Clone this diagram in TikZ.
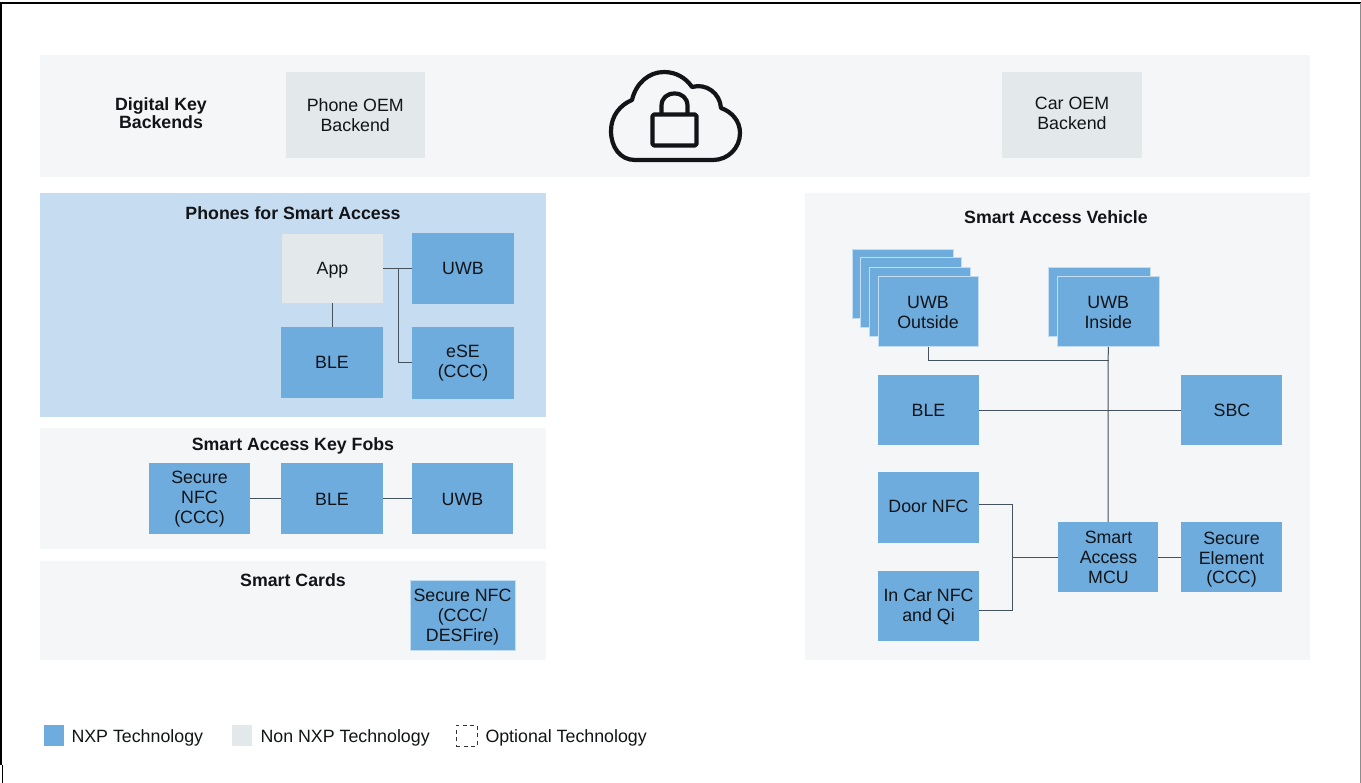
\documentclass[tikz,border=0pt]{standalone}
\usepackage{fontspec}
\setmainfont{Liberation Sans}
\definecolor{nxp}{HTML}{6EACDE}
\definecolor{nonnxp}{HTML}{E3E9EB}
\definecolor{panel}{HTML}{F5F6F8}
\definecolor{phonepanel}{HTML}{C5DCF1}
\definecolor{edgeblue}{HTML}{C3DDF3}
\definecolor{wire}{HTML}{46525D}
\definecolor{ink}{HTML}{121417}
\newcommand{\bx}[7]{%
  \pgfmathsetmacro{\cxv}{(#2+#4)/2}\pgfmathsetmacro{\cyv}{(#3+#5)/2}%
  \pgfmathsetmacro{\wv}{#4-#2}\pgfmathsetmacro{\hv}{#5-#3}%
  \node[#6,minimum width=\wv pt,minimum height=\hv pt] (#1) at (\cxv,\cyv) {#7};}
\newcommand{\nudge}[2]{\raisebox{-#1pt}[\height][\depth]{\begin{tabular}{@{}c@{}}#2\end{tabular}}}
\tikzset{
  every node/.style={inner sep=0pt,outer sep=0pt,text=ink,align=center,font=\fontsize{17.8}{20}\selectfont},
  nxpbox/.style={fill=nxp},
  nxpedge/.style={fill=nxp,draw=edgeblue,line width=1pt},
  nonbox/.style={fill=nonnxp},
  panelbox/.style={fill=panel},
  phonebox/.style={fill=phonepanel},
  title/.style={font=\fontsize{17.75}{18}\selectfont\bfseries},
  wired/.style={draw=wire,line width=1pt},
  icon/.style={draw=ink,line width=4.2pt,line join=round,line cap=round},
}
\begin{document}
\begin{tikzpicture}[x=1pt,y=-1pt]
\useasboundingbox (0,0) rectangle (1361,783);
% frame
\fill[white] (0,0) rectangle (1361,783);
\draw[black,line width=2.8pt] (0,3) -- (1361,3);
\draw[black,line width=2.4pt] (0.8,3) -- (0.8,765);
\draw[black!45,line width=1.2pt] (1360.4,3) -- (1360.4,783);
\draw[black,line width=1pt] (2,765) -- (2,783);
% panels
\bx{backends}{40}{55}{1310}{177}{panelbox}{}
\bx{phones}{40}{193}{546}{417}{phonebox}{}
\bx{fobs}{40}{428}{546}{549}{panelbox}{}
\bx{cards}{40}{561}{546}{660}{panelbox}{}
\bx{vehicle}{805}{193}{1310}{660}{panelbox}{}
% titles
\node[title] (tdk) at (161,113) {Digital Key\\Backends};
\node[title] (tph) at (293,213) {Phones for Smart Access};
\node[title] (tfo) at (293,446) {Smart Access Key Fobs};
\node[title] (tca) at (293,580) {Smart Cards};
\node[title] (tve) at (1056,217) {Smart Access Vehicle};
% backends
\bx{phoneoem}{286}{72}{424.5}{158.5}{nonbox}{Phone OEM\\Backend}
\bx{caroem}{1002}{72}{1142}{158.5}{nonbox}{\nudge{0}{Car OEM\\Backend}}
% cloud
\draw[icon,fill=panel] (635,160)
  .. controls (620,160) and (611,147) .. (611,131)
  .. controls (611,116) and (620,105) .. (632,100)
  .. controls (636,83) and (649,72) .. (664,72)
  .. controls (676,72) and (686,78) .. (692,87)
  .. controls (706,83) and (720,93) .. (721,108)
  .. controls (732,112) and (740,121) .. (740,133)
  .. controls (740,148) and (728,160) .. (713,160) -- cycle;
\draw[icon] (661.5,114) -- (661.5,106)
  .. controls (661.5,98) and (667,93.5) .. (674.5,93.5)
  .. controls (682,93.5) and (687.5,98) .. (687.5,106) -- (687.5,114);
\draw[icon,rounded corners=1.5pt] (652.5,114.5) rectangle (696.5,145.5);
% phones
\bx{app}{282}{234}{383}{303}{nonbox}{\nudge{2}{App}}
\bx{puwb}{412}{233}{514}{304}{nxpbox}{UWB}
\bx{pble}{281}{327}{383}{398}{nxpbox}{BLE}
\bx{pese}{412}{327}{514}{399}{nxpbox}{eSE\\(CCC)}
% fobs
\bx{fnfc}{149}{463}{250}{534}{nxpbox}{\nudge{1}{Secure\\NFC\\(CCC)}}
\bx{fble}{281}{463}{383}{534}{nxpbox}{\nudge{3}{BLE}}
\bx{fuwb}{412}{463}{513}{534}{nxpbox}{\nudge{3}{UWB}}
% cards
\bx{cnfc}{410}{580}{515}{650}{nxpedge}{\nudge{2.5}{Secure NFC\\(CCC/\\DESFire)}}
% vehicle
\bx{uo3}{852.5}{249.5}{953.5}{319}{nxpedge}{}
\bx{uo2}{860.5}{257.5}{961.5}{328}{nxpedge}{}
\bx{uo1}{869.5}{267.5}{970}{337}{nxpedge}{}
\bx{uout}{878}{277}{978}{347}{nxpedge}{\nudge{3}{UWB\\Outside}}
\bx{ui1}{1048.5}{267.5}{1150}{337}{nxpedge}{}
\bx{uin}{1057.5}{277}{1159}{347}{nxpedge}{\nudge{3}{UWB\\Inside}}
\bx{vble}{878}{375}{979}{445.5}{nxpbox}{BLE}
\bx{sbc}{1181}{375}{1282}{445.5}{nxpbox}{\hspace{1pt}SBC}
\bx{door}{878}{472}{979}{543}{nxpbox}{\nudge{1}{Door NFC}}
\bx{incar}{878}{571}{979}{641}{nxpbox}{\nudge{1.5}{In Car NFC\\and Qi}}
\bx{mcu}{1058}{522}{1158}{592}{nxpbox}{\hspace{1pt}Smart\\\hspace{1pt}Access\\\hspace{1pt}MCU}
\bx{se}{1181}{522}{1282}{592}{nxpbox}{\nudge{3}{Secure\\Element\\(CCC)}}
% connectors
\coordinate (pbranch) at (398,268.5);
\draw[wired] (app.east) -- (puwb.west);
\draw[wired] (pbranch) |- (pese.west);
\draw[wired] (app.south) -- (app.south |- pble.north);
\draw[wired] (fnfc) -- (fble);
\draw[wired] (fble) -- (fuwb);
\coordinate (ujoin) at (1109,360.5);
\draw[wired] (uout.south) |- (ujoin);
\draw[wired] (uin.south) -- (mcu.north);
\draw[wired] (vble) -- (sbc);
\coordinate (doorout) at (979,504.5);
\coordinate (carout) at (979,610.5);
\coordinate (nbus) at (1012.5,557);
\draw[wired] (doorout) -| (nbus) |- (carout);
\draw[wired] (nbus) -- (mcu.west);
\draw[wired] (mcu) -- (se);
% legend
\bx{lgnxp}{43.5}{725}{64}{746}{nxpbox}{}
\node[anchor=west] (lgnxpt) at (71.5,738) {NXP Technology};
\bx{lgnon}{231.5}{725}{252}{746}{nonbox}{}
\node[anchor=west] (lgnont) at (260.5,738) {Non NXP Technology};
\bx{lgopt}{456}{725}{477}{746}{draw=black!80,dash pattern=on 4pt off 3.5pt,line width=0.9pt}{}
\node[anchor=west] (lgoptt) at (485.5,738) {Optional Technology};
\end{tikzpicture}
\end{document}
